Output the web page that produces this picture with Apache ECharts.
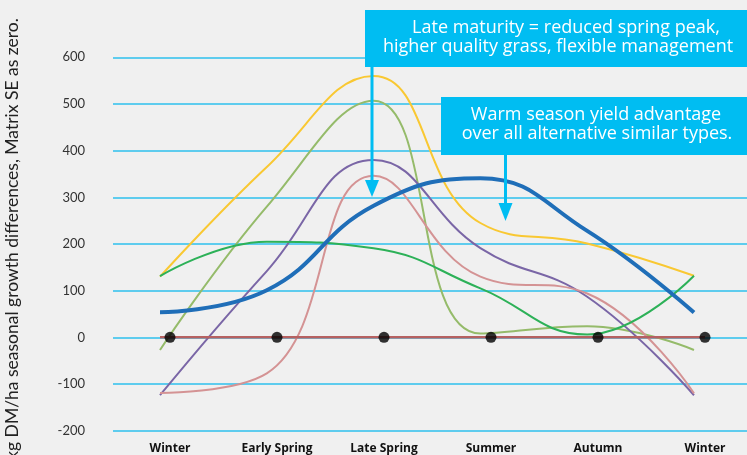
<!DOCTYPE html>
<html>
<head>
<meta charset="utf-8">
<script src="https://cdn.jsdelivr.net/npm/echarts@6/dist/echarts.min.js"></script>
<style>
html,body{margin:0;padding:0;background:#F0F0F0;}
#chart{width:747px;height:455px;}
</style>
</head>
<body>
<div id="chart"></div>
<script>
const categories = ['Winter', 'Early Spring', 'Late Spring', 'Summer', 'Autumn', 'Winter'];
const yTicks = [-200, -100, 0, 100, 200, 300, 400, 500, 600];
const seriesYellow = [130, 365, 560, 245, 201, 132];
const seriesOlive = [-27, 280, 507, 8, 24, -27];
const seriesPurple = [-124, 142, 380, 191, 87, -124];
const seriesPink = [-119, -77, 346, 130, 94, -120];
const seriesGreen = [131, 205, 191, 105, 6, 132];
const seriesBlue = [54, 101, 282, 341, 228, 53];
const matrixSE = [0, 0, 0, 0, 0, 0];
const yTitle = 'kg DM/ha seasonal growth differences, Matrix SE as zero.';
const note1 = ['Late maturity = reduced spring peak,', 'higher quality grass, flexible management'];
const note2 = ['Warm season yield advantage', 'over all alternative similar types.'];

const TOP = 57.3, BOTTOM = 24.3;
const FONT = 'Lato';
const NOTE_FONT = '18px "Open Sans"';
const yMin = yTicks[0], yMax = yTicks[yTicks.length - 1];

const chart = echarts.init(document.getElementById('chart'));

function hiddenX(gi) {
  return { type: 'category', gridIndex: gi, data: categories, boundaryGap: false, show: false };
}
function hiddenY(gi) {
  return { type: 'value', gridIndex: gi, min: yMin, max: yMax, interval: 100, show: false };
}
function line(name, data, color, width, z) {
  return {
    name, type: 'line', xAxisIndex: 1, yAxisIndex: 1, data, smooth: 0.45,
    symbol: 'none', lineStyle: { color, width }, z: z || 2, animation: false
  };
}
function noteText(x, y, text) {
  return { type: 'text', x, y, z: 11,
    style: { text, fill: '#fff', font: NOTE_FONT, textAlign: 'center', textVerticalAlign: 'middle' } };
}

const option = {
  backgroundColor: '#F0F0F0',
  animation: false,
  grid: [
    { left: 113, right: 0, top: TOP, bottom: BOTTOM },
    { left: 160, right: 53, top: TOP, bottom: BOTTOM },
    { left: 170, right: 42, top: TOP, bottom: BOTTOM },
    { left: 160, right: 42, top: TOP, bottom: BOTTOM }
  ],
  xAxis: [
    hiddenX(0),
    hiddenX(1),
    {
      type: 'category', gridIndex: 2, data: categories, boundaryGap: false,
      axisLine: { show: false }, axisTick: { show: false },
      axisLabel: { color: '#111', fontFamily: 'Open Sans', fontWeight: 'bold', fontSize: 12, margin: 12 }
    },
    hiddenX(3)
  ],
  yAxis: [
    {
      type: 'value', gridIndex: 0, min: yMin, max: yMax, interval: 100,
      axisLine: { show: false }, axisTick: { show: false },
      axisLabel: { color: '#333', fontFamily: FONT, fontSize: 13, margin: 28 },
      splitLine: { lineStyle: { color: '#2EC1EE', width: 1.5 } }
    },
    hiddenY(1), hiddenY(2), hiddenY(3)
  ],
  series: [
    line('Yellow', seriesYellow, '#F9C832', 2),
    line('Olive', seriesOlive, '#95BB6A', 2),
    line('Purple', seriesPurple, '#7A66A6', 2),
    line('Pink', seriesPink, '#D49394', 2),
    line('Green', seriesGreen, '#2DB158', 2),
    line('Blue', seriesBlue, '#1F6EB8', 4, 3),
    {
      name: 'Matrix SE', type: 'line', xAxisIndex: 3, yAxisIndex: 3, data: matrixSE,
      symbol: 'none', lineStyle: { color: '#B66161', width: 2.5 }, z: 4
    },
    {
      name: 'Matrix SE points', type: 'scatter', xAxisIndex: 2, yAxisIndex: 2, data: matrixSE,
      symbol: 'circle', symbolSize: 11, itemStyle: { color: '#000' }, z: 5
    }
  ],
  graphic: [
    {
      type: 'text', rotation: Math.PI / 2, x: 12, y: 239,
      style: { text: yTitle, fill: '#222', font: '17.5px ' + FONT, textAlign: 'center', textVerticalAlign: 'middle' }
    },
    // note 1
    { type: 'rect', shape: { x: 365, y: 10, width: 382, height: 57 }, style: { fill: '#00BDF2' }, z: 10 },
    noteText(566, 28, note1[0]),
    noteText(558, 47, note1[1]),
    { type: 'line', shape: { x1: 372, y1: 66, x2: 372, y2: 183 }, style: { stroke: '#00BDF2', lineWidth: 3 }, z: 10 },
    { type: 'polygon', shape: { points: [[365, 180], [379, 180], [372, 197]] }, style: { fill: '#00BDF2' }, z: 10 },
    // note 2
    { type: 'rect', shape: { x: 441, y: 97, width: 306, height: 58 }, style: { fill: '#00BDF2' }, z: 10 },
    noteText(596, 115, note2[0]),
    noteText(597, 134, note2[1]),
    { type: 'line', shape: { x1: 505.5, y1: 154, x2: 505.5, y2: 206 }, style: { stroke: '#00BDF2', lineWidth: 3 }, z: 10 },
    { type: 'polygon', shape: { points: [[498.5, 203], [512.5, 203], [505.5, 221]] }, style: { fill: '#00BDF2' }, z: 10 }
  ]
};
chart.setOption(option);
</script>
</body>
</html>
